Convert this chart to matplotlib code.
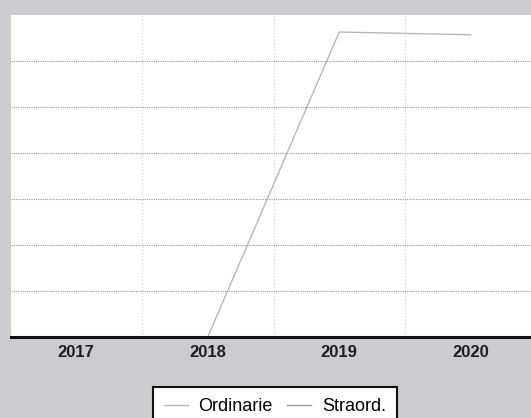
import numpy as np
import matplotlib
matplotlib.use('Agg')
import matplotlib.pyplot as plt

# data
years = ['2017', '2018', '2019', '2020']
ordinarie = [np.nan, 0.0, 6.63, 6.57]
straord = [0.0, 0.0, 0.0, 0.0]

plt.rcParams['font.family'] = ['Liberation Sans', 'DejaVu Sans']

fig = plt.figure(figsize=(5.31, 4.18), dpi=100, facecolor='#cbcbd2')
ax = fig.add_axes([10.5 / 531, 1 - 337 / 418, 526 / 531, 322 / 418])
ax.set_facecolor('white')

x = np.arange(len(years))
ax.plot(x, straord, color='#9a9a9a', linewidth=1, label='Straord.', zorder=1)
ax.plot(x, ordinarie, color='#b8b8b8', linewidth=1, label='Ordinarie', zorder=2)

ax.set_xlim(-0.5, 3.5)
ax.set_ylim(0, 7)

# horizontal gridlines, no labels
ax.set_yticks(np.arange(1, 7))
ax.yaxis.grid(True, color='#959595', linestyle=(0, (1, 1)), linewidth=0.8)
ax.tick_params(axis='y', left=False, labelleft=False)

# category ticks in the middle, gridlines at the boundaries
ax.set_xticks(x)
ax.set_xticklabels(years, fontsize=12, color='#1e1e1e', fontweight='bold')
ax.set_xticks([0.5, 1.5, 2.5], minor=True)
ax.xaxis.grid(True, which='minor', color='#d0d0d0', linestyle=(0, (1, 2)), linewidth=0.8)
ax.tick_params(axis='x', which='both', length=0, pad=6)

for s in ['top', 'right', 'left']:
    ax.spines[s].set_visible(False)
ax.spines['bottom'].set_linewidth(2.2)
ax.spines['bottom'].set_color('#111111')
ax.set_axisbelow(True)

handles, labels = ax.get_legend_handles_labels()
leg = fig.legend(handles[::-1], labels[::-1], loc='upper center',
                 bbox_to_anchor=(275 / 531, 1 - 387 / 418), ncol=2,
                 fontsize=13, frameon=True, fancybox=False, framealpha=1,
                 handlelength=1.3, handletextpad=0.6, columnspacing=0.8,
                 borderpad=0.6, borderaxespad=0)
leg.get_frame().set_edgecolor('#111111')
leg.get_frame().set_linewidth(1.5)
leg.get_frame().set_facecolor('white')

fig.savefig('out.png', dpi=100, facecolor=fig.get_facecolor())
